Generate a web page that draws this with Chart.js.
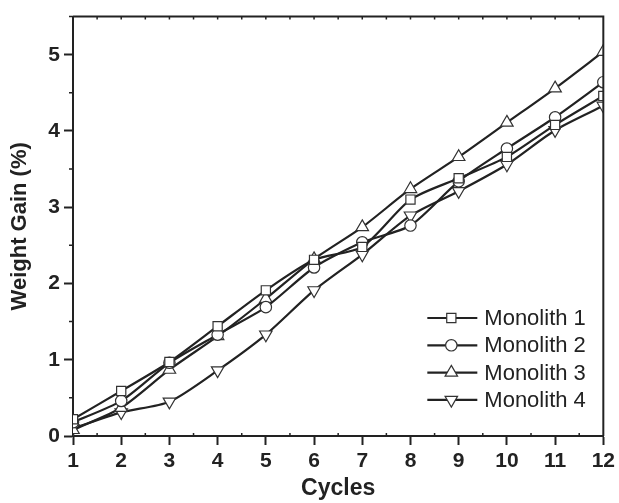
<!DOCTYPE html>
<html>
<head>
<meta charset="utf-8">
<script src="https://cdn.jsdelivr.net/npm/chart.js@4.4.1/dist/chart.umd.min.js"></script>
<style>
  html, body { margin: 0; padding: 0; background: #fff; }
  #wrap { width: 619px; height: 503px; }
</style>
</head>
<body>
<div id="wrap"><canvas id="c" width="619" height="503"></canvas></div>
<script>
const cycles = [1, 2, 3, 4, 5, 6, 7, 8, 9, 10, 11, 12];
const monolith1 = [0.22, 0.59, 0.97, 1.44, 1.91, 2.31, 2.48, 3.10, 3.38, 3.66, 4.08, 4.46];
const monolith2 = [0.18, 0.46, 0.96, 1.33, 1.69, 2.21, 2.54, 2.76, 3.34, 3.77, 4.18, 4.64];
const monolith3 = [0.08, 0.37, 0.87, 1.31, 1.80, 2.32, 2.74, 3.24, 3.66, 4.11, 4.56, 5.04];
const monolith4 = [0.10, 0.31, 0.45, 0.86, 1.33, 1.91, 2.38, 2.89, 3.21, 3.56, 4.01, 4.33];
const seriesLabels = ['Monolith 1', 'Monolith 2', 'Monolith 3', 'Monolith 4'];
const yTickValues = [0, 1, 2, 3, 4, 5];
const xTickValues = cycles;

const INK = '#222';
const FONT = '"Liberation Sans", Arial, sans-serif';
const styles = [
  { pointStyle: 'rect', radius: 6.5, rotation: 0 },
  { pointStyle: 'circle', radius: 5.7, rotation: 0 },
  { pointStyle: 'triangle', radius: 7.2, rotation: 0 },
  { pointStyle: 'triangle', radius: 7.2, rotation: 180 }
];
const allSeries = [monolith1, monolith2, monolith3, monolith4];

const datasets = allSeries.map((vals, i) => ({
  label: seriesLabels[i],
  data: vals.map((v, k) => ({ x: cycles[k], y: v })),
  borderColor: INK,
  borderWidth: 2.2,
  backgroundColor: '#fff',
  pointBackgroundColor: '#fff',
  pointBorderColor: '#333',
  pointBorderWidth: 1.2,
  pointStyle: styles[i].pointStyle,
  pointRadius: styles[i].radius,
  pointRotation: styles[i].rotation,
  pointHoverRadius: styles[i].radius,
  tension: 0.25,
  fill: false
}));

function drawMarker(ctx, st, x, y) {
  ctx.save();
  ctx.fillStyle = '#fff';
  ctx.strokeStyle = '#333';
  ctx.lineWidth = 1.2;
  ctx.beginPath();
  const r = st.radius;
  if (st.pointStyle === 'rect') {
    const s = Math.SQRT1_2 * r;
    ctx.rect(x - s, y - s, 2 * s, 2 * s);
  } else if (st.pointStyle === 'circle') {
    ctx.arc(x, y, r, 0, Math.PI * 2);
  } else {
    const dir = st.rotation === 180 ? -1 : 1;
    ctx.moveTo(x, y - dir * r);
    ctx.lineTo(x + r * Math.sin(Math.PI / 3), y + dir * r * 0.5);
    ctx.lineTo(x - r * Math.sin(Math.PI / 3), y + dir * r * 0.5);
    ctx.closePath();
  }
  ctx.fill();
  ctx.stroke();
  ctx.restore();
}

const framePlugin = {
  id: 'frame',
  afterDraw(chart) {
    const ctx = chart.ctx;
    const ca = chart.chartArea;
    const xs = chart.scales.x, ys = chart.scales.y;
    ctx.save();
    ctx.strokeStyle = INK;
    ctx.lineWidth = 2;
    ctx.beginPath();
    ctx.moveTo(ca.left, ca.top);
    ctx.lineTo(ca.right, ca.top);
    ctx.lineTo(ca.right, ca.bottom);
    ctx.stroke();
    // minor ticks
    ctx.lineWidth = 1.5;
    ctx.beginPath();
    for (let v = 1.5; v < 12; v += 1) {
      const px = xs.getPixelForValue(v);
      ctx.moveTo(px, ca.bottom); ctx.lineTo(px, ca.bottom - 3);
      ctx.moveTo(px, ca.top); ctx.lineTo(px, ca.top + 3);
    }
    for (let v = 2; v < 12; v += 1) {
      const px = xs.getPixelForValue(v);
      ctx.moveTo(px, ca.top); ctx.lineTo(px, ca.top + 3);
    }
    for (let v = 0.5; v < 5.6; v += 1) {
      const py = ys.getPixelForValue(v);
      ctx.moveTo(ca.left, py); ctx.lineTo(ca.left - 4, py);
    }
    ctx.stroke();
    // legend
    const lx = ca.right - 176, ly = ca.bottom - 118, gap = 27.3;
    ctx.font = '22px ' + FONT;
    ctx.textBaseline = 'middle';
    chart.data.datasets.forEach((ds, i) => {
      const y = ly + i * gap;
      ctx.strokeStyle = INK;
      ctx.lineWidth = 2.2;
      ctx.beginPath();
      ctx.moveTo(lx, y); ctx.lineTo(lx + 50, y);
      ctx.stroke();
      drawMarker(ctx, styles[i], lx + 24, y);
      ctx.fillStyle = INK;
      ctx.fillText(ds.label, lx + 57, y + 1);
    });
    ctx.restore();
  }
};

new Chart(document.getElementById('c'), {
  type: 'line',
  data: { datasets },
  plugins: [framePlugin],
  options: {
    responsive: false,
    animation: false,
    layout: { padding: { top: 9, right: 13, left: 0, bottom: 0 } },
    plugins: { legend: { display: false }, tooltip: { enabled: false } },
    scales: {
      x: {
        type: 'linear',
        min: 1, max: 12,
        afterBuildTicks(scale) { scale.ticks = xTickValues.map(v => ({ value: v })); },
        afterFit(scale) { scale.height = 67; },
        ticks: {
          color: INK,
          padding: 4,
          font: { family: FONT, size: 21, weight: 'bold' }
        },
        grid: { drawOnChartArea: false, drawTicks: true, tickLength: 9, tickWidth: 2, tickColor: INK },
        border: { color: INK, width: 2 },
        title: {
          display: true, text: 'Cycles', color: INK, padding: { top: 0, bottom: 1 },
          font: { family: FONT, size: 23, weight: 'bold' }
        }
      },
      y: {
        type: 'linear',
        min: 0, max: 5.5,
        afterBuildTicks(scale) { scale.ticks = yTickValues.map(v => ({ value: v })); },
        afterFit(scale) { scale.width = 73; },
        ticks: {
          color: INK,
          padding: 4,
          font: { family: FONT, size: 21, weight: 'bold' }
        },
        grid: { drawOnChartArea: false, drawTicks: true, tickLength: 9, tickWidth: 2, tickColor: INK },
        border: { color: INK, width: 2 },
        title: {
          display: true, text: 'Weight Gain (%)', color: INK, padding: { top: 7, bottom: 0 },
          font: { family: FONT, size: 22, weight: 'bold' }
        }
      }
    }
  }
});
</script>
</body>
</html>
